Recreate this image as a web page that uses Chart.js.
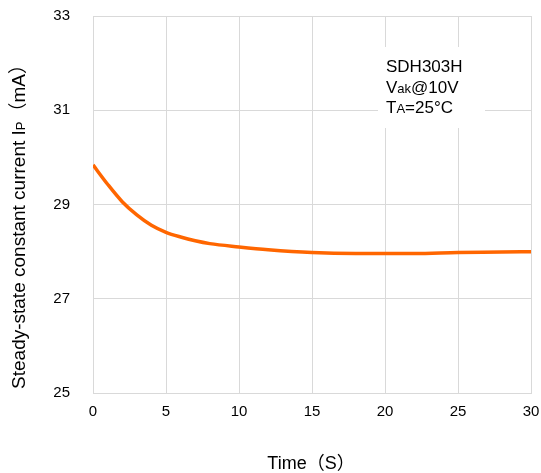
<!DOCTYPE html>
<html>
<head>
<meta charset="utf-8">
<script src="https://cdn.jsdelivr.net/npm/chart.js@4.4.1/dist/chart.umd.min.js"></script>
<style>
  html, body { margin: 0; padding: 0; background: #ffffff; }
  #wrap { width: 541px; height: 473px; position: relative; }
</style>
</head>
<body>
<div id="wrap"><canvas id="chartIp"></canvas></div>
<script>
// ============ DATA ============
var timeSec   = [0, 1, 2, 3, 4, 5, 6, 7, 8, 10, 12, 15, 18, 20, 22, 25, 28, 30];
var currentMa = [29.84, 29.43, 29.06, 28.78, 28.56, 28.41, 28.31, 28.23, 28.17, 28.10,
                 28.04, 27.98, 27.96, 27.96, 27.96, 27.98, 27.99, 28.00];
var xTicks = [0, 5, 10, 15, 20, 25, 30];
var yTicks = [25, 27, 29, 31, 33];

var FONT = "'Liberation Sans', Arial, sans-serif";
var CJK  = "'Noto Sans CJK TC', 'Noto Sans CJK SC', sans-serif";
var GRID = '#d9d9d9';

// draw a run of [text, font] pieces starting at x, returns end x
function drawRun(ctx, parts, x, y) {
  parts.forEach(function(p) {
    ctx.font = p[1];
    ctx.fillText(p[0], x, y);
    x += ctx.measureText(p[0]).width;
  });
  return x;
}
function runWidth(ctx, parts) {
  var w = 0;
  parts.forEach(function(p) { ctx.font = p[1]; w += ctx.measureText(p[0]).width; });
  return w;
}

// ============ TITLES + NOTE (drawn on canvas) ============
var labelsPlugin = {
  id: 'labels',
  afterDraw: function(chart) {
    var ctx = chart.ctx;
    ctx.save();
    ctx.textBaseline = 'alphabetic';
    ctx.textAlign = 'left';

    // note box
    ctx.fillStyle = '#ffffff';
    ctx.fillRect(378, 47, 107, 81);
    ctx.fillStyle = '#000000';
    var big = '17px ' + FONT, small = '13px ' + FONT;
    drawRun(ctx, [['SDH303H', big]], 386, 72);
    drawRun(ctx, [['V', big], ['ak', small], ['@10V', big]], 386, 93);
    drawRun(ctx, [['T', big], ['A', small], ['=25°C', big]], 386, 113);

    // x title
    var xt = [['Time', '18px ' + FONT], ['（', '18px ' + CJK], ['S', '18px ' + FONT], ['）', '18px ' + CJK]];
    drawRun(ctx, xt, 311 - runWidth(ctx, xt) / 2, 469);

    // y title, rotated
    var yt = [
      ['Steady-state constant current I', '19px ' + FONT],
      ['P', '13px ' + FONT],
      ['（', '19px ' + CJK],
      ['mA', '19px ' + FONT],
      ['）', '19px ' + CJK]
    ];
    var total = runWidth(ctx, yt);
    ctx.translate(25, 222);
    ctx.rotate(-Math.PI / 2);
    drawRun(ctx, yt, -total / 2, 0);
    ctx.restore();
  }
};

new Chart(document.getElementById('chartIp'), {
  type: 'line',
  data: {
    datasets: [{
      data: timeSec.map(function(t, i) { return { x: t, y: currentMa[i] }; }),
      borderColor: '#ff6600',
      borderWidth: 3.5,
      pointRadius: 0,
      cubicInterpolationMode: 'monotone',
      fill: false
    }]
  },
  options: {
    responsive: true,
    maintainAspectRatio: false,
    animation: false,
    layout: { padding: { top: 16, right: 10, bottom: 0, left: 0 } },
    plugins: { legend: { display: false }, tooltip: { enabled: false } },
    scales: {
      x: {
        type: 'linear',
        min: 0, max: 30,
        afterFit: function(s) { s.height = 80; s.paddingLeft = 0; s.paddingRight = 0; },
        afterBuildTicks: function(s) { s.ticks = xTicks.map(function(v) { return { value: v }; }); },
        grid: { color: GRID, lineWidth: 1, drawTicks: false },
        border: { color: GRID, width: 1 },
        ticks: { color: '#000000', padding: 10, maxRotation: 0, font: { family: FONT, size: 15 } }
      },
      y: {
        min: 25, max: 33,
        afterFit: function(s) { s.width = 93; s.paddingTop = 0; s.paddingBottom = 0; },
        afterBuildTicks: function(s) { s.ticks = yTicks.map(function(v) { return { value: v }; }); },
        grid: { color: GRID, lineWidth: 1, drawTicks: false },
        border: { color: GRID, width: 1 },
        ticks: { color: '#000000', padding: 23, font: { family: FONT, size: 15 } }
      }
    }
  },
  plugins: [labelsPlugin]
});
</script>
</body>
</html>
